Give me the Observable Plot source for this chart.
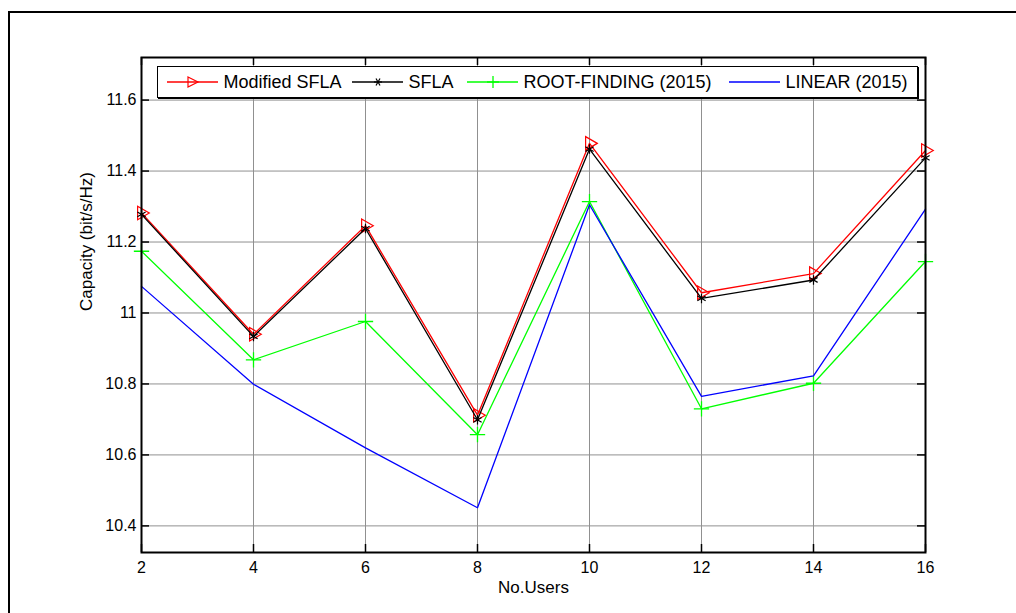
<!DOCTYPE html>
<html>
<head>
<meta charset="utf-8">
<script src="https://cdn.jsdelivr.net/npm/d3@7"></script>
<script src="https://cdn.jsdelivr.net/npm/@observablehq/plot@0.6"></script>
<style>
  body { margin: 0; background: #fff; overflow: hidden; font-family: "Liberation Sans", Arial, sans-serif; }
  #wrap { position: relative; width: 1016px; height: 613px; overflow: hidden; }
  #border { position: absolute; left: 8px; top: 11px; width: 1008px; height: 602px; border-left: 2px solid #000; border-top: 2px solid #000; box-sizing: border-box; pointer-events: none; }
  #legend { position: absolute; left: 157px; top: 66px; width: 761px; height: 32px; border: 1.5px solid #000; box-sizing: border-box; background: #fff; box-shadow: 1px 1px 0 #000; }
  .item { position: absolute; top: 0; height: 100%; display: flex; align-items: center; font-size: 18px; white-space: nowrap; color: #000; }
  .item svg { display: block; margin-right: 6px; }
</style>
</head>
<body>
<div id="wrap">
  <div id="chart"></div>
  <div id="legend"></div>
  <div id="border"></div>
</div>
<script>
// ---- data ----
const users = [2, 4, 6, 8, 10, 12, 14, 16];
const modifiedSFLA = [11.282, 10.940, 11.246, 10.712, 11.478, 11.057, 11.111, 11.458];
const sfla         = [11.278, 10.934, 11.238, 10.699, 11.462, 11.041, 11.093, 11.437];
const rootFinding  = [11.174, 10.868, 10.976, 10.657, 11.314, 10.730, 10.802, 11.145];
const linear       = [11.075, 10.799, 10.620, 10.451, 11.305, 10.765, 10.823, 11.293];

const seriesNames = ["Modified SFLA", "SFLA", "ROOT-FINDING (2015)", "LINEAR (2015)"];
const seriesColors = ["#ff0000", "#000000", "#00ff00", "#0000ff"];
const xTicks = [2, 4, 6, 8, 10, 12, 14, 16];
const yTicks = [10.4, 10.6, 10.8, 11, 11.2, 11.4, 11.6];
const yTickLabels = ["10.4", "10.6", "10.8", "11", "11.2", "11.4", "11.6"];
const xDomain = [2, 16];
const yDomain = [10.325, 11.72];
const xLabel = "No.Users";
const yLabel = "Capacity (bit/s/Hz)";

const allSeries = [modifiedSFLA, sfla, rootFinding, linear];
const rowsOf = (i) => users.map((u, j) => ({ x: u, y: allSeries[i][j], s: seriesNames[i] }));

const W = 1016, H = 613;
const mL = 141, mR = 91, mT = 57, mB = 61;
const frameW = W - mL - mR, frameH = H - mT - mB;
const tickLen = 8;
const gridStyle = { stroke: "#909090", strokeOpacity: 1, strokeWidth: 1 };

const chart = Plot.plot({
  width: W, height: H,
  marginLeft: mL, marginRight: mR, marginTop: mT, marginBottom: mB,
  style: { fontFamily: "'Liberation Sans', Arial, sans-serif", fontSize: "16px", color: "#000", background: "#fff" },
  x: { domain: xDomain },
  y: { domain: yDomain },
  marks: [
    Plot.gridX(xTicks, gridStyle),
    Plot.gridY(yTicks, gridStyle),
    // inward tick marks on all four sides
    Plot.tickX(xTicks, { x: d => d, insetTop: frameH - tickLen, stroke: "#000", strokeWidth: 1.5 }),
    Plot.tickX(xTicks, { x: d => d, insetBottom: frameH - tickLen, stroke: "#000", strokeWidth: 1.5 }),
    Plot.tickY(yTicks, { y: d => d, insetRight: frameW - tickLen, stroke: "#000", strokeWidth: 1.5 }),
    Plot.tickY(yTicks, { y: d => d, insetLeft: frameW - tickLen, stroke: "#000", strokeWidth: 1.5 }),
    // series
    Plot.line(rowsOf(0), { x: "x", y: "y", stroke: seriesColors[0], strokeWidth: 1.3 }),
    Plot.dot(rowsOf(0), { x: "x", y: "y", symbol: "triangle", rotate: 90, r: 5, stroke: seriesColors[0], fill: "none", strokeWidth: 1.2 }),
    Plot.line(rowsOf(1), { x: "x", y: "y", stroke: seriesColors[1], strokeWidth: 1.3 }),
    Plot.dot(rowsOf(1), { x: "x", y: "y", symbol: "asterisk", r: 4.5, stroke: seriesColors[1], strokeWidth: 1.2 }),
    Plot.line(rowsOf(2), { x: "x", y: "y", stroke: seriesColors[2], strokeWidth: 1.3 }),
    Plot.dot(rowsOf(2), { x: "x", y: "y", symbol: "plus", r: 5, stroke: seriesColors[2], strokeWidth: 1.3 }),
    Plot.line(rowsOf(3), { x: "x", y: "y", stroke: seriesColors[3], strokeWidth: 1.3 }),
    Plot.frame({ stroke: "#000", strokeWidth: 2 }),
    Plot.axisX({ ticks: xTicks, tickSize: 0, tickPadding: 9, label: null, tickFormat: d => String(d) }),
    Plot.axisY({ ticks: yTicks, tickSize: 0, tickPadding: 5, label: null, tickFormat: (d, i) => yTickLabels[i] }),
    Plot.text([xLabel], { frameAnchor: "bottom", dy: 40, fontSize: 17, text: d => d }),
    Plot.text([yLabel], { frameAnchor: "left", dx: -55, dy: 6, rotate: -90, fontSize: 17, text: d => d })
  ]
});
document.getElementById("chart").appendChild(chart);

// ---- legend ----
const legendLeft = [10, 195, 310, 572];
const markerSvg = [
  '<line x1="0" y1="10" x2="51" y2="10" stroke="#ff0000" stroke-width="1.3"/><polygon points="21,5 31,10 21,15" fill="none" stroke="#ff0000" stroke-width="1.2"/>',
  '<line x1="0" y1="10" x2="51" y2="10" stroke="#000" stroke-width="1.3"/><g stroke="#000" stroke-width="1.2"><line x1="22" y1="10" x2="30" y2="10"/><line x1="24" y1="6.5" x2="28" y2="13.5"/><line x1="24" y1="13.5" x2="28" y2="6.5"/></g>',
  '<line x1="0" y1="10" x2="51" y2="10" stroke="#00ff00" stroke-width="1.3"/><g stroke="#00ff00" stroke-width="1.3"><line x1="20" y1="10" x2="32" y2="10"/><line x1="26" y1="4" x2="26" y2="16"/></g>',
  '<line x1="0" y1="10" x2="51" y2="10" stroke="#0000ff" stroke-width="1.3"/>'
];
const legend = document.getElementById("legend");
seriesNames.forEach((name, i) => {
  const it = document.createElement("div");
  it.className = "item";
  it.style.left = (legendLeft[i] - 1.5) + "px";
  it.innerHTML = '<svg width="51" height="20" viewBox="0 0 51 20">' + markerSvg[i] + '</svg><span>' + name + '</span>';
  legend.appendChild(it);
});
</script>
</body>
</html>
